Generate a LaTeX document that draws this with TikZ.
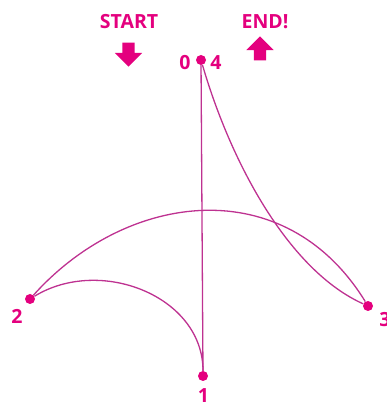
\documentclass[tikz,border=0pt]{standalone}
\usepackage{fontspec}
\setsansfont{Open Sans}
\usetikzlibrary{shapes.arrows}
\definecolor{pinkdot}{RGB}{228,0,126}
\definecolor{pinkline}{RGB}{190,50,145}
\tikzset{
	dot/.style={circle, fill=pinkdot, inner sep=0pt, minimum size=10pt},
	lbl/.style={text=pinkdot, font=\sffamily\bfseries\fontsize{19.5}{19.5}\selectfont, inner sep=0pt},
	route/.style={draw=pinkline, line width=1.3pt},
	bigarrow/.style={single arrow, fill=pinkdot, inner sep=6pt, minimum height=24pt, single arrow head extend=7.5pt, single arrow head indent=0pt}
}
\begin{document}
\begin{tikzpicture}[x=1pt,y=1pt]
		\useasboundingbox (0,0) rectangle (387,406);
		% stops of the tour
		\foreach \name/\x/\y in {p0/201/346, p1/203/30, p2/30/107, p3/368/100} {
			\node[dot] (\name) at (\x,\y) {};
		}
		\node[lbl] (l0) at (185,343.5) {0};
		\node[lbl] (l4) at (216,343.5) {4};
		\node[lbl] (l1) at (203.5,10.5) {1};
		\node[lbl] (l2) at (17,90) {2};
		\node[lbl] (l3) at (385,86) {3};
		% start and end marks
		\node[lbl] (start) at (129,384.5) {START};
		\node[lbl] (end) at (265,384.5) {END!};
		\node[bigarrow, shape border rotate=270] (down) at (128.5,354.5) {};
		\node[bigarrow, shape border rotate=90] (up) at (260,354.5) {};
		% legs
		\draw[route] (p0) -- (p1);
		\draw[route] (p1) .. controls (203,110) and (100,150) .. (p2);
		\draw[route] (p2) .. controls (127,215) and (285,235) .. (p3);
		\draw[route] (p3) .. controls (290,135) and (232,240) .. (p0);
	\end{tikzpicture}
\end{document}
